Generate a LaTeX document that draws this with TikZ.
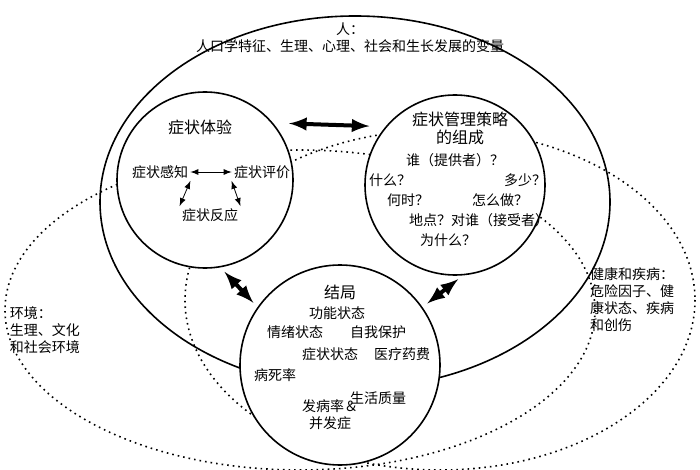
\documentclass[tikz,border=0pt]{standalone}
\usepackage{fontspec}
\newfontfamily\cjk{Noto Sans CJK SC}
\usetikzlibrary{arrows,positioning,calc}
\begin{document}
\begin{tikzpicture}[x=0.5pt,y=-0.5pt, >=latex,
   every node/.style={font=\cjk\fontsize{7}{8.5}\selectfont, align=center, inner sep=1pt},
   circ/.style={draw, thick, circle, fill=white, inner sep=0pt},
   link/.style={<->, line width=2pt, shorten >=8pt, shorten <=8pt},
   small/.style={<->, thin},
   dots/.style={dotted, thick}]
    \useasboundingbox (0,0) rectangle (700,470);

    % frames
    \draw[thick] (355,202) ellipse [x radius=255, y radius=186];
    \draw[dots] (300,310) ellipse [x radius=295, y radius=160];
    \draw[dots] (440,300) ellipse [x radius=255, y radius=170];

    \node at (350,38) (person) {人：\\人口学特征、生理、心理、社会和生长发展的变量};
    \node[align=left] at (45,330) (env) {环境：\\生理、文化\\和社会环境};
    \node[align=left] at (632,300) (health) {健康和疾病：\\危险因子、健\\康状态、疾病\\和创伤};

    % circles
    \node[circ, minimum size=88pt] (exp) at (205,180) {};
    \node[circ, minimum size=90pt] (mgt) at (455,185) {};
    \node[circ, minimum size=100pt] (out) at (340,365) {};

    % symptom experience
    \node[font=\cjk\fontsize{8}{9}\selectfont] at (200,127) (exptitle) {症状体验};
    \node at (160,172) (perc) {症状感知};
    \node at (262,172) (eval) {症状评价};
    \node at (210,215) (resp) {症状反应};
    \draw[small] (perc) -- (eval);
    \draw[small] (perc.south east) -- (resp.north west);
    \draw[small] (resp.north east) -- (eval.south west);

    % management
    \node[font=\cjk\fontsize{8}{9}\selectfont] at (460,128) (mgttitle) {症状管理策略\\的组成};
    \node at (455,160) (who) {谁（提供者）？};
    \node at (390,180) (what) {什么？};
    \node at (525,180) (much) {多少？};
    \node at (408,200) (when) {何时？};
    \node at (500,200) (how) {怎么做？};
    \node at (430,220) (where) {地点？};
    \node at (500,220) (whom) {对谁（接受者）};
    \node at (448,240) (why) {为什么？};

    % outcome
    \node[font=\cjk\fontsize{8}{9}\selectfont] at (340,292) (outtitle) {结局};
    \node at (337,313) (func) {功能状态};
    \node at (295,332) (emo) {情绪状态};
    \node at (378,332) (self) {自我保护};
    \node at (330,354) (symst) {症状状态};
    \node at (402,354) (cost) {医疗药费};
    \node at (275,375) (mort) {病死率};
    \node at (378,398) (qol) {生活质量};
    \node at (330,415) (morb) {发病率＆\\并发症};

    % links
    \draw[link] (exp.40) -- (mgt.140);
    \draw[link, shorten >=3pt, shorten <=3pt] (exp.-80) -- (out.145);
    \draw[link, shorten >=3pt, shorten <=3pt] (mgt.-85) -- (out.35);
\end{tikzpicture}
\end{document}
